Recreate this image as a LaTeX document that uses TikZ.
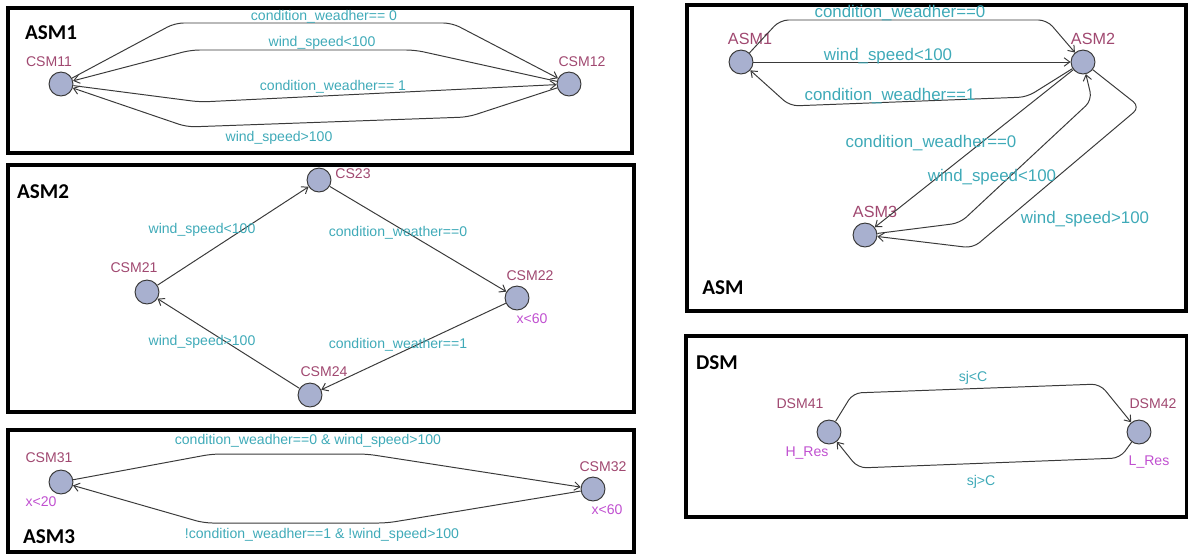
\documentclass[tikz,border=0pt]{standalone}
\usepackage{fontspec}
\setmainfont{Liberation Sans}
\newfontfamily\titlefont{Carlito}
\usetikzlibrary{positioning,arrows.meta}

\definecolor{statefill}{HTML}{A8B0CF}
\definecolor{locred}{HTML}{A04870}
\definecolor{guardteal}{HTML}{3FAAB8}
\definecolor{invpink}{HTML}{C050D0}
\definecolor{edgegray}{HTML}{3A3A3A}

\tikzset{
  >={Straight Barb[length=4pt,width=6pt]},
  state/.style={circle, draw=edgegray, fill=statefill, line width=0.7pt, minimum size=17pt, inner sep=0pt},
  locname/.style={text=locred, font=\fontsize{10}{11}\selectfont, inner sep=1pt},
  guard/.style={text=guardteal, font=\fontsize{10}{11}\selectfont, inner sep=1pt},
  bigguard/.style={text=guardteal, font=\fontsize{12}{13}\selectfont, inner sep=1pt},
  inv/.style={text=invpink, font=\fontsize{10}{11}\selectfont, inner sep=1pt},
  edge/.style={->, draw=edgegray, line width=0.7pt, rounded corners=6pt},
  panel/.style={draw=black, line width=3.2pt},
  paneltitle/.style={font=\titlefont\bfseries\fontsize{15}{16}\selectfont, inner sep=0pt}
}

\begin{document}
\begin{tikzpicture}[x=0.025cm, y=-0.025cm]
\useasboundingbox (0,0) rectangle (1188,554);

% Panels
\draw[panel] (8,8) rectangle (632,153);
\draw[panel] (8,165) rectangle (634,412);
\draw[panel] (8,430) rectangle (634,552);
\draw[panel] (687,5) rectangle (1186,311);
\draw[panel] (686,336) rectangle (1187,517);

% ASM1
\node[paneltitle] (t1) at (51,33) {ASM1};
\node[state] (csm11) at (61,84) {};
\node[state] (csm12) at (569,84) {};
\node[locname] (l11) at (49,62) {CSM11};
\node[locname] (l12) at (582,62) {CSM12};
\draw[edge] (csm11) -- (175,23) -- (452,23) -- (csm12);
\draw[edge] (csm12) -- (415,50) -- (191,50) -- (csm11);
\draw[edge] (csm11) -- (200,102) -- (csm12);
\draw[edge] (csm12) -- (468,117) -- (187,127) -- (csm11);
\node[guard] (g11) at (324,17) {condition\_weadher== 0};
\node[guard] (g12) at (322,43) {wind\_speed<100};
\node[guard] (g13) at (333,87) {condition\_weadher== 1};
\node[guard] (g14) at (279,138) {wind\_speed>100};

% ASM2
\node[paneltitle] (t2) at (43,192) {ASM2};
\node[state] (csm21) at (147,292) {};
\node[state] (cs23) at (319,180) {};
\node[state] (csm22) at (517,298) {};
\node[state] (csm24) at (310,395) {};
\node[locname] (l21) at (134,268) {CSM21};
\node[locname] (l23) at (353,174) {CS23};
\node[locname] (l22) at (530,276) {CSM22};
\node[locname] (l24) at (324,372) {CSM24};
\node[inv] (i22) at (532,319) {x<60};
\draw[edge] (csm21) -- (cs23);
\draw[edge] (cs23) -- (csm22);
\draw[edge] (csm22) -- (csm24);
\draw[edge] (csm24) -- (csm21);
\node[guard] (g21) at (202,230) {wind\_speed<100};
\node[guard] (g22) at (398,233) {condition\_weather==0};
\node[guard] (g23) at (398,345) {condition\_weather==1};
\node[guard] (g24) at (202,342) {wind\_speed>100};

% ASM3
\node[paneltitle] (t3) at (49,537) {ASM3};
\node[state] (csm31) at (61,482) {};
\node[state] (csm32) at (593,489) {};
\node[locname] (l31) at (49,458) {CSM31};
\node[locname] (l32) at (603,467) {CSM32};
\node[inv] (i31) at (41,502) {x<20};
\node[inv] (i32) at (607,510) {x<60};
\draw[edge] (csm31) -- (212,454) -- (367,454) -- (csm32);
\draw[edge] (csm32) -- (387,523) -- (204,523) -- (csm31);
\node[guard] (g31) at (308,441) {condition\_weadher==0 \& wind\_speed>100};
\node[guard] (g32) at (322,535) {!condition\_weadher==1 \& !wind\_speed>100};

% ASM
\node[paneltitle] (t4) at (723,288) {ASM};
\node[state] (asm1) at (741,62) {};
\node[state] (asm2) at (1083,62) {};
\node[state] (asm3) at (865,235) {};
\node[locname, font=\fontsize{11.5}{12}\selectfont] (la1) at (750,39) {ASM1};
\node[locname, font=\fontsize{11.5}{12}\selectfont] (la2) at (1093,39) {ASM2};
\node[locname, font=\fontsize{11.5}{12}\selectfont] (la3) at (875,212) {ASM3};
\draw[edge] (asm1) -- (780,20) -- (1047,20) -- (asm2);
\draw[edge] (asm1) -- (asm2);
\draw[edge] (asm2) -- (1027,97) -- (790,106) -- (asm1);
\draw[edge] (asm2) -- (asm3);
\draw[edge] (asm3) -- (960,223) -- (1092,100) -- (asm2);
\draw[edge] (asm2) -- (1140,107) -- (973,248) -- (asm3);
\node[bigguard] (ga1) at (900,13) {condition\_weadher==0};
\node[bigguard] (ga2) at (888,56) {wind\_speed<100};
\node[bigguard] (ga3) at (890,96) {condition\_weadher==1};
\node[bigguard] (ga4) at (931,143) {condition\_weadher==0};
\node[bigguard] (ga5) at (992,177) {wind\_speed<100};
\node[bigguard] (ga6) at (1085,219) {wind\_speed>100};

% DSM
\node[paneltitle] (t5) at (717,363) {DSM};
\node[state] (dsm41) at (829,432) {};
\node[state] (dsm42) at (1139,432) {};
\node[locname] (l41) at (800,404) {DSM41};
\node[locname] (l42) at (1153,404) {DSM42};
\node[inv] (i41) at (807,453) {H\_Res};
\node[inv] (i42) at (1149,462) {L\_Res};
\draw[edge] (dsm41) -- (853,393) -- (1100,384) -- (dsm42);
\draw[edge] (dsm42) -- (1120,458) -- (858,468) -- (dsm41);
\node[guard] (gd1) at (973,378) {sj<C};
\node[guard] (gd2) at (981,482) {sj>C};

\end{tikzpicture}
\end{document}
